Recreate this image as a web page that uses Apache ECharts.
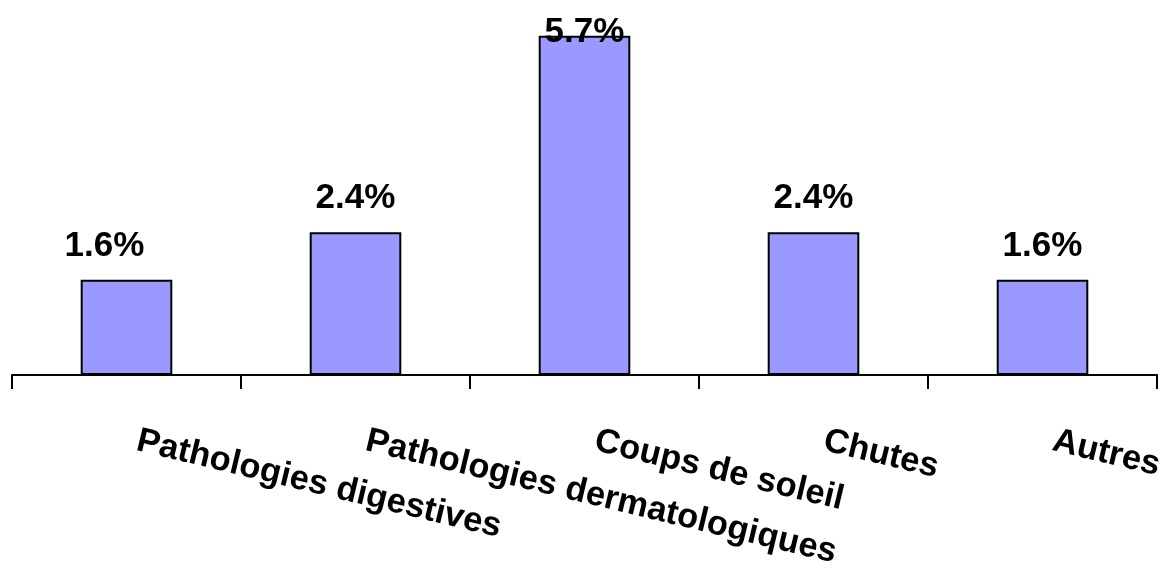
<!DOCTYPE html>
<html>
<head>
<meta charset="utf-8">
<script src="https://cdn.jsdelivr.net/npm/echarts@6/dist/echarts.min.js"></script>
<style>
  html, body { margin: 0; padding: 0; background: #fff; }
  #main { width: 1161px; height: 569px; }
</style>
</head>
<body>
<div id="main"></div>
<script>
// categories and values (percent)
const categories = ['Pathologies digestives', 'Pathologies dermatologiques', 'Coups de soleil', 'Chutes', 'Autres'];
const values = [1.6, 2.4, 5.7, 2.4, 1.6];

let myChart = echarts.init(document.getElementById('main'));

// 5.7% label sits on the bar top in the original, first label is a bit shifted left
let seriesData = values.map(function (v, i) {
  let item = { value: v };
  if (i === 0) item.label = { offset: [-22, 0] };
  if (v === 5.7) item.label = { offset: [0, 30] };
  return item;
});

let option = {
  animation: false,
  grid: { left: 12, right: 4, top: 18, bottom: 194, containLabel: false, outerBoundsMode: 'none' },
  xAxis: {
    type: 'category',
    data: categories,
    axisLine: { lineStyle: { color: '#000', width: 2 } },
    axisTick: { show: true, length: 14, lineStyle: { color: '#000', width: 2 } },
    axisLabel: {
      interval: 0,
      rotate: -13.5,
      margin: 63,
      padding: [0, 0, 0, 11],
      color: '#000',
      fontFamily: 'Liberation Sans, Arial, sans-serif',
      fontWeight: 'bold',
      fontSize: 34.5
    }
  },
  yAxis: {
    type: 'value',
    min: 0,
    max: 6,
    show: false
  },
  series: [{
    type: 'bar',
    barWidth: '40%',
    data: seriesData,
    itemStyle: { color: '#9999FF', borderColor: '#000', borderWidth: 2 },
    label: {
      show: true,
      position: 'top',
      distance: 16,
      color: '#000',
      fontFamily: 'Liberation Sans, Arial, sans-serif',
      fontWeight: 'bold',
      fontSize: 35,
      formatter: function (p) { return p.value.toFixed(1) + '%'; }
    }
  }]
};

myChart.setOption(option);
</script>
</body>
</html>
